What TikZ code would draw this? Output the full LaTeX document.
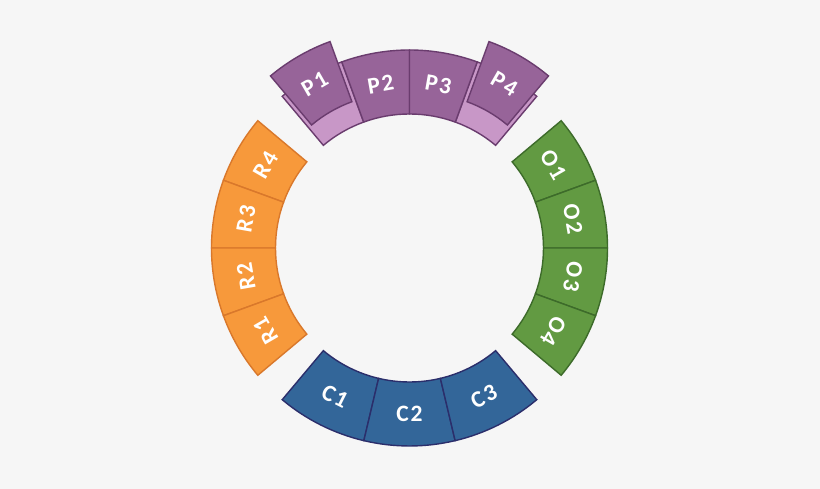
\documentclass[tikz,border=0pt]{standalone}
\usepackage{fontspec}
\setmainfont{Carlito}
\newfontfamily\labfont[LetterSpace=8]{Carlito}
\definecolor{bg}{HTML}{F6F6F6}
\definecolor{orfill}{HTML}{F7993B}
\definecolor{ordraw}{HTML}{D9782B}
\definecolor{grfill}{HTML}{629A42}
\definecolor{grdraw}{HTML}{3D6B2A}
\definecolor{blfill}{HTML}{336699}
\definecolor{bldraw}{HTML}{2B2E6B}
\definecolor{pufill}{HTML}{976499}
\definecolor{pudraw}{HTML}{6A3C6E}
\definecolor{pulight}{HTML}{C897C7}
\newcommand{\ringseg}[3]{%
  \draw[#3] (#1:134pt) arc[start angle=#1,end angle=#2,radius=134pt]
    -- (#2:198pt) arc[start angle=#2,end angle=#1,radius=198pt] -- cycle;}
\tikzset{
  segline/.style={line width=1.4pt, line join=miter},
  rseg/.style={segline, fill=orfill, draw=ordraw},
  oseg/.style={segline, fill=grfill, draw=grdraw},
  cseg/.style={segline, fill=blfill, draw=bldraw},
  pseg/.style={segline, fill=pufill, draw=pudraw},
  plight/.style={segline, fill=pulight, draw=pudraw},
  lab/.style={text=white, font=\labfont\bfseries\fontsize{23.5}{23.5}\selectfont, inner sep=0pt, anchor=center}
}
\begin{document}
\begin{tikzpicture}
\useasboundingbox (-409.5pt,-241pt) rectangle (410.5pt,248pt);
\fill[bg] (-409.5pt,-241pt) rectangle (410.5pt,248pt);
% R segments
\ringseg{140}{160}{rseg}
\ringseg{160}{180}{rseg}
\ringseg{180}{200}{rseg}
\ringseg{200}{220}{rseg}
\node[lab, rotate=60]  (r4) at (150:166pt) {R4};
\node[lab, rotate=80]  (r3) at (170:166pt) {R3};
\node[lab, rotate=100] (r2) at (190:166pt) {R2};
\node[lab, rotate=120] (r1) at (210:166pt) {R1};
% O segments
\ringseg{20}{40}{oseg}
\ringseg{0}{20}{oseg}
\ringseg{-20}{0}{oseg}
\ringseg{-40}{-20}{oseg}
\node[lab, rotate=-60]  (o1) at (30:166pt) {O1};
\node[lab, rotate=-80]  (o2) at (10:166pt) {O2};
\node[lab, rotate=-100] (o3) at (-10:166pt) {O3};
\node[lab, rotate=-120] (o4) at (-30:166pt) {O4};
% C segments
\ringseg{230}{256.667}{cseg}
\ringseg{256.667}{283.333}{cseg}
\ringseg{283.333}{310}{cseg}
\node[lab, rotate=-26.667] (c1) at (243.333:166pt) {C1};
\node[lab]                 (c2) at (270:166pt) {C2};
\node[lab, rotate=26.667]  (c3) at (296.667:166pt) {C3};
% P segments
\ringseg{110}{130}{plight}
\ringseg{50}{70}{plight}
\ringseg{90}{110}{pseg}
\ringseg{70}{90}{pseg}
\node[lab, rotate=10]  (p2) at (100:166pt) {P2};
\node[lab, rotate=-10] (p3) at (80:166pt) {P3};
\begin{scope}[shift={(120:23.5pt)}]
\ringseg{110}{130}{pseg}
\node[lab, rotate=30] (p1) at (120:166pt) {P1};
\end{scope}
\begin{scope}[shift={(60:23.5pt)}]
\ringseg{50}{70}{pseg}
\node[lab, rotate=-30] (p4) at (60:166pt) {P4};
\end{scope}
\end{tikzpicture}
\end{document}
